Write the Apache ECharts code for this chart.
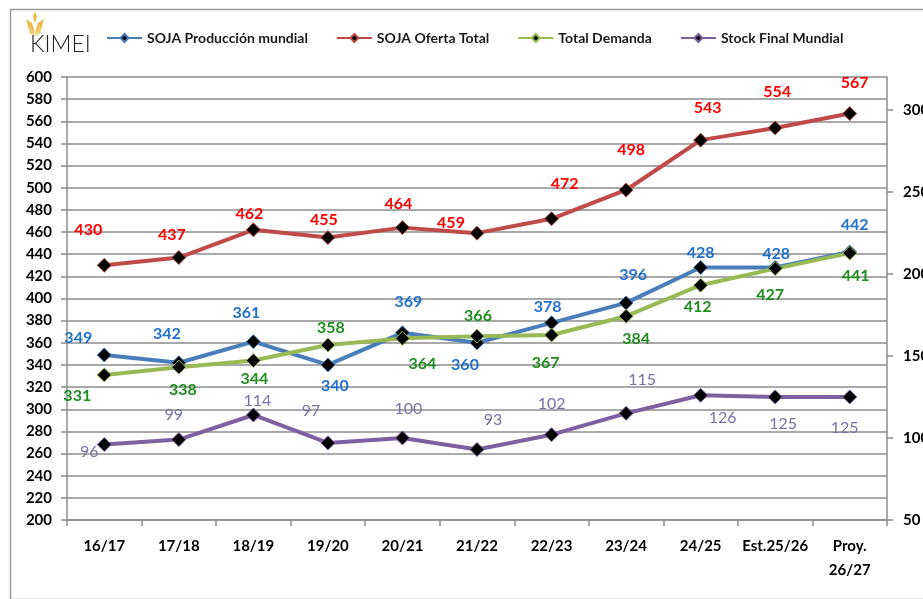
<!DOCTYPE html>
<html>
<head>
<meta charset="utf-8">
<script src="https://cdn.jsdelivr.net/npm/echarts@6/dist/echarts.min.js"></script>
<style>html,body{margin:0;padding:0;background:#fff}#c{width:923px;height:599px}</style>
</head>
<body>
<div id="c"></div>
<script>
const categories = ['16/17','17/18','18/19','19/20','20/21','21/22','22/23','23/24','24/25','Est.25/26','Proy.\n26/27'];
const produccion = [349, 342, 361, 340, 369, 360, 378, 396, 428, 428, 442];
const oferta     = [430, 437, 462, 455, 464, 459, 472, 498, 543, 554, 567];
const demanda    = [331, 338, 344, 358, 364, 366, 367, 384, 412, 427, 441];
const stock      = [96, 99, 114, 97, 100, 93, 102, 115, 126, 125, 125];
const leftTicks  = {min: 200, max: 600, interval: 20};
const rightTicks = {min: 50, max: 320, interval: 50};

// label offsets (pixels) relative to each marker
const offProd = [[-26,-17],[-12,-29],[-7,-29],[7,21],[6,-31],[-12,22],[-4,-16],[7,-28],[0,-15],[1,-14],[5,-27]];
const offOf   = [[-16,-35],[-7,-23],[-4,-16],[-4,-18],[-4,-24],[-26,-10],[13,-35],[5,-40],[7,-32],[2,-36],[5,-31]];
const offDem  = [[-27,21],[4,23],[1,18],[3,-17],[20,25],[1,-20],[-6,28],[10,23],[-3,22],[-5,26],[6,23]];
const offSt   = [[-15,7],[-5,-25],[4,-14],[-17,-32],[6,-29],[16,-30],[0,-31],[16,-34],[22,23],[8,27],[-5,31]];

const FONT = 'Lato, "Open Sans", sans-serif';

function mkSeries(name, values, offs, lineColor, labelColor, bold, yIdx) {
  return {
    name: name,
    type: 'line',
    yAxisIndex: yIdx,
    data: values.map((v, i) => ({value: v, label: {offset: offs[i]}})),
    symbol: 'diamond',
    symbolSize: 14,
    lineStyle: {color: lineColor, width: 4},
    itemStyle: {color: '#000', borderColor: lineColor, borderWidth: 1},
    color: lineColor,
    label: {
      show: true, position: 'inside', color: labelColor,
      fontFamily: FONT, fontSize: 16, fontWeight: bold ? 'bold' : 'normal'
    },
    emphasis: {disabled: true},
    animation: false
  };
}

const chart = echarts.init(document.getElementById('c'), null, {renderer: 'canvas'});
chart.setOption({
  backgroundColor: '#fff',
  animation: false,
  grid: {left: 67, right: 36, top: 77, bottom: 79, containLabel: false, outerBoundsMode: 'none'},
  legend: {
    left: 101, top: 26, itemWidth: 35, itemHeight: 10, itemGap: 28,
    textStyle: {fontFamily: FONT, fontSize: 14, fontWeight: 'bold', color: '#1a1a1a'},
    data: ['SOJA Producción mundial','SOJA Oferta Total','Total Demanda','Stock Final Mundial']
  },
  xAxis: {
    type: 'category', data: categories, boundaryGap: true,
    axisLine: {lineStyle: {color: '#8c8c8c', width: 1.5}},
    axisTick: {show: true, length: 6, lineStyle: {color: '#8c8c8c', width: 1.5}},
    axisLabel: {interval: 0, margin: 14, color: '#000', fontFamily: FONT, fontSize: 15, fontWeight: 'bold', lineHeight: 24}
  },
  yAxis: [{
    type: 'value', min: leftTicks.min, max: leftTicks.max, interval: leftTicks.interval,
    axisLine: {show: true, lineStyle: {color: '#8c8c8c', width: 1.5}},
    axisTick: {show: true, length: 6, lineStyle: {color: '#8c8c8c', width: 1.5}},
    splitLine: {show: true, lineStyle: {color: '#8c8c8c', width: 1.5}},
    axisLabel: {margin: 15, color: '#000', fontFamily: FONT, fontSize: 15, fontWeight: 'bold'}
  }, {
    type: 'value', position: 'right', min: rightTicks.min, max: rightTicks.max, interval: rightTicks.interval,
    axisLine: {show: true, lineStyle: {color: '#8c8c8c', width: 1.5}},
    axisTick: {show: true, length: 6, lineStyle: {color: '#8c8c8c', width: 1.5}},
    splitLine: {show: false},
    axisLabel: {margin: 16, color: '#000', fontFamily: FONT, fontSize: 15, fontWeight: 'bold', showMaxLabel: false,
      hideOverlap: false, formatter: v => (v % 50 === 0 ? String(v) : '')}
  }],
  series: [
    mkSeries('SOJA Producción mundial', produccion, offProd, '#4A7EBB', '#1F70CF', true, 0),
    mkSeries('SOJA Oferta Total', oferta, offOf, '#BE4B48', '#FF0000', true, 0),
    mkSeries('Total Demanda', demanda, offDem, '#98B954', '#1E8C1E', true, 0),
    mkSeries('Stock Final Mundial', stock, offSt, '#7D60A0', '#7373A8', false, 1)
  ],
  graphic: [
    {type: 'rect', left: 8, top: 7, shape: {width: 930, height: 590}, style: {fill: 'none', stroke: '#9a9a9a', lineWidth: 1.5}, silent: true},
    {type: 'group', left: 26, top: 11, children: [
      {type: 'polygon', shape: {points: [[10,0],[12,6],[10,12],[8,6]]}, style: {fill: '#EDB94A'}},
      {type: 'polygon', shape: {points: [[1,8],[7,12],[10,22],[4,18]]}, style: {fill: '#EDB94A'}},
      {type: 'polygon', shape: {points: [[19,8],[13,12],[10,22],[16,18]]}, style: {fill: '#EDB94A'}},
      {type: 'polygon', shape: {points: [[2,14],[7,17],[10,25],[5,22]]}, style: {fill: '#F2CB6B'}},
      {type: 'polygon', shape: {points: [[18,14],[13,17],[10,25],[15,22]]}, style: {fill: '#F2CB6B'}}
    ]},
    {type: 'text', left: 30, top: 33, style: {text: 'KIMEI', fill: '#222', font: '300 23px Lato, "DejaVu Sans", sans-serif'}}
  ]
});
</script>
</body>
</html>
